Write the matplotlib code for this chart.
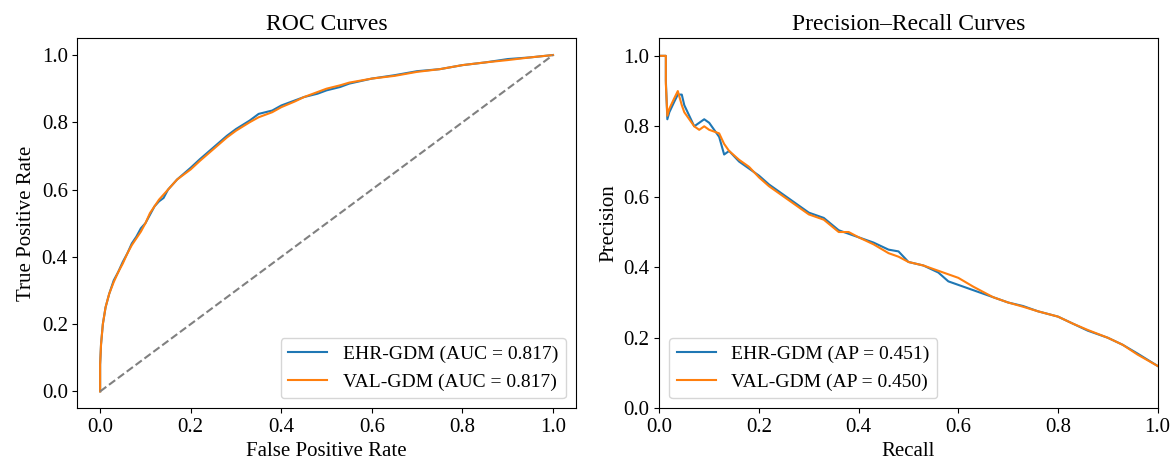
import numpy as np
import matplotlib.pyplot as plt

plt.rcParams['font.family'] = ['Liberation Serif', 'DejaVu Serif']

# ROC data #####################################################
roc_fpr_ehr = [0.0, 0.0, 0.002, 0.006, 0.012, 0.02, 0.03, 0.04, 0.05, 0.06, 0.07, 0.08, 0.09,
               0.1, 0.11, 0.12, 0.13, 0.14, 0.15, 0.17, 0.2, 0.22, 0.25, 0.28, 0.3, 0.33,
               0.35, 0.38, 0.4, 0.43, 0.45, 0.48, 0.5, 0.53, 0.55, 0.6, 0.65, 0.7, 0.75,
               0.8, 0.85, 0.9, 0.95, 1.0]
roc_tpr_ehr = [0.0, 0.08, 0.14, 0.2, 0.25, 0.29, 0.33, 0.355, 0.385, 0.41, 0.44, 0.46, 0.485,
               0.5, 0.525, 0.55, 0.565, 0.575, 0.6, 0.63, 0.665, 0.69, 0.725, 0.76, 0.78, 0.805,
               0.825, 0.835, 0.85, 0.865, 0.875, 0.885, 0.895, 0.905, 0.915, 0.93, 0.94, 0.952, 0.958,
               0.97, 0.978, 0.988, 0.993, 1.0]
roc_fpr_val = [0.0, 0.0, 0.002, 0.006, 0.012, 0.02, 0.03, 0.04, 0.05, 0.06, 0.07, 0.08, 0.09,
               0.1, 0.11, 0.12, 0.13, 0.14, 0.15, 0.17, 0.2, 0.22, 0.25, 0.28, 0.3, 0.33,
               0.35, 0.38, 0.4, 0.43, 0.45, 0.48, 0.5, 0.53, 0.55, 0.6, 0.65, 0.7, 0.75,
               0.8, 0.85, 0.9, 0.95, 1.0]
roc_tpr_val = [0.0, 0.08, 0.14, 0.2, 0.25, 0.29, 0.325, 0.355, 0.38, 0.41, 0.435, 0.455, 0.475,
               0.5, 0.53, 0.55, 0.57, 0.585, 0.6, 0.63, 0.66, 0.685, 0.72, 0.755, 0.775, 0.8,
               0.815, 0.83, 0.845, 0.862, 0.875, 0.89, 0.9, 0.91, 0.918, 0.93, 0.938, 0.95, 0.958,
               0.97, 0.978, 0.985, 0.993, 1.0]
auc_ehr = 0.817
auc_val = 0.817

# Precision-recall data ########################################
pr_rec_ehr = [0.0, 0.013, 0.013, 0.016, 0.02, 0.03, 0.037, 0.045, 0.05, 0.06, 0.07, 0.08,
              0.09, 0.1, 0.11, 0.12, 0.13, 0.14, 0.16, 0.18, 0.2, 0.22, 0.25, 0.28, 0.3,
              0.33, 0.36, 0.38, 0.4, 0.43, 0.46, 0.48, 0.5, 0.53, 0.56, 0.58, 0.6, 0.63,
              0.67, 0.7, 0.73, 0.76, 0.8, 0.83, 0.86, 0.9, 0.93, 0.96, 1.0]
pr_prec_ehr = [1.0, 1.0, 0.93, 0.82, 0.84, 0.87, 0.89, 0.89, 0.86, 0.83, 0.8, 0.81,
               0.82, 0.81, 0.79, 0.77, 0.72, 0.73, 0.7, 0.68, 0.66, 0.635, 0.605, 0.575, 0.555,
               0.54, 0.505, 0.495, 0.485, 0.47, 0.45, 0.445, 0.415, 0.405, 0.385, 0.36, 0.35, 0.335,
               0.315, 0.3, 0.29, 0.275, 0.26, 0.24, 0.22, 0.2, 0.18, 0.155, 0.12]
pr_rec_val = [0.0, 0.013, 0.013, 0.016, 0.02, 0.03, 0.037, 0.045, 0.05, 0.06, 0.07, 0.08,
              0.09, 0.1, 0.11, 0.12, 0.13, 0.14, 0.16, 0.18, 0.2, 0.22, 0.25, 0.28, 0.3,
              0.33, 0.36, 0.38, 0.4, 0.43, 0.46, 0.48, 0.5, 0.53, 0.56, 0.58, 0.6, 0.63,
              0.67, 0.7, 0.73, 0.76, 0.8, 0.83, 0.86, 0.9, 0.93, 0.96, 1.0]
pr_prec_val = [1.0, 1.0, 0.92, 0.83, 0.85, 0.88, 0.9, 0.86, 0.84, 0.82, 0.8, 0.79,
               0.8, 0.79, 0.785, 0.78, 0.75, 0.73, 0.705, 0.685, 0.655, 0.63, 0.6, 0.57, 0.55,
               0.535, 0.5, 0.5, 0.485, 0.465, 0.44, 0.43, 0.415, 0.405, 0.39, 0.38, 0.37, 0.345,
               0.315, 0.3, 0.288, 0.275, 0.26, 0.24, 0.222, 0.2, 0.18, 0.152, 0.12]
ap_ehr = 0.451
ap_val = 0.450

fs = 15
fig, (ax0, ax1) = plt.subplots(1, 2, figsize=(11.74, 4.66), dpi=100)
fig.subplots_adjust(left=0.066, right=0.986, top=0.918, bottom=0.124, wspace=0.168)

# ROC panel
ax0.plot(roc_fpr_ehr, roc_tpr_ehr, color='#1f77b4', lw=1.5, label='EHR-GDM (AUC = %.3f)' % auc_ehr)
ax0.plot(roc_fpr_val, roc_tpr_val, color='#ff7f0e', lw=1.5, label='VAL-GDM (AUC = %.3f)' % auc_val)
ax0.plot([0, 1], [0, 1], color='gray', ls='--', lw=1.5)
ax0.set_xlim(-0.05, 1.05)
ax0.set_ylim(-0.05, 1.05)
ax0.set_title('ROC Curves', fontsize=fs + 2)
ax0.set_xlabel('False Positive Rate', fontsize=fs)
ax0.set_ylabel('True Positive Rate', fontsize=fs)
ax0.legend(loc='lower right', fontsize=fs - 1)

# PR panel
ax1.plot(pr_rec_ehr, pr_prec_ehr, color='#1f77b4', lw=1.5, label='EHR-GDM (AP = %.3f)' % ap_ehr)
ax1.plot(pr_rec_val, pr_prec_val, color='#ff7f0e', lw=1.5, label='VAL-GDM (AP = %.3f)' % ap_val)
ax1.set_xlim(0, 1)
ax1.set_ylim(0, 1.05)
ax1.set_title('Precision\u2013Recall Curves', fontsize=fs + 2)
ax1.set_xlabel('Recall', fontsize=fs)
ax1.set_ylabel('Precision', fontsize=fs)
ax1.legend(loc='lower left', fontsize=fs - 1)

for a in (ax0, ax1):
    a.tick_params(labelsize=fs)

plt.savefig('out.png', dpi=100)
